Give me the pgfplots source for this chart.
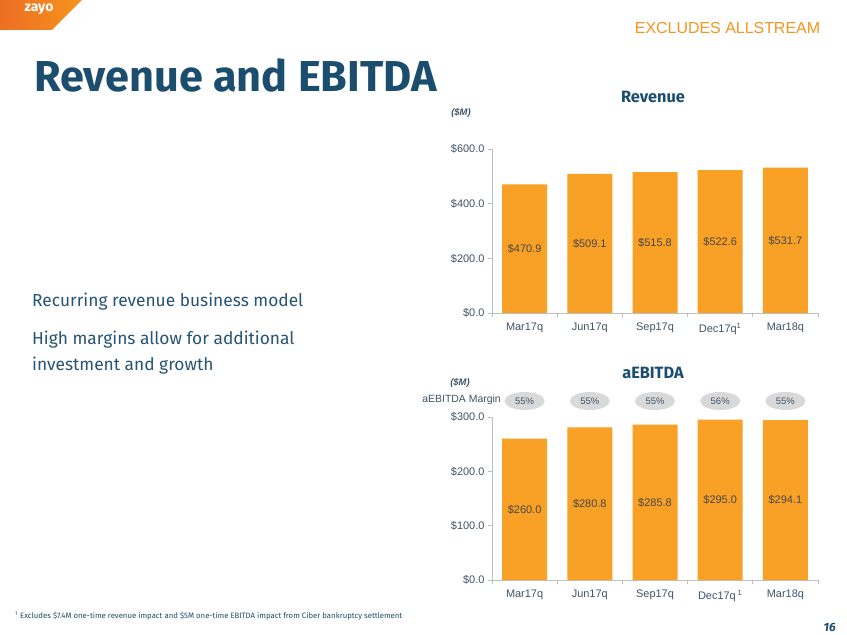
\documentclass[border=0pt]{standalone}
\usepackage{pgfplots}
\pgfplotsset{compat=1.18}
\usepackage{pgfplotstable}
\usepackage{fontspec}
\setmainfont{Liberation Sans}
\newfontfamily\fira{Fira Sans}
\usetikzlibrary{shapes.geometric}

\definecolor{barorange}{RGB}{249,161,38}
\definecolor{navy}{RGB}{27,77,110}
\definecolor{axtext}{RGB}{64,84,104}
\definecolor{valtext}{RGB}{70,70,70}
\definecolor{axline}{RGB}{191,191,191}
\definecolor{ovalgray}{RGB}{217,217,217}
\definecolor{zorange}{RGB}{247,148,29}
\definecolor{zdark}{RGB}{236,110,35}
\definecolor{bodyblue}{RGB}{38,84,117}

\pgfplotstableread{
x y
0 470.9
1 509.1
2 515.8
3 522.6
4 531.7
}\revtable

\pgfplotstableread{
x y m
0 260.0 55
1 280.8 55
2 285.8 55
3 295.0 56
4 294.1 55
}\ebitdatable

\pgfplotsset{
  zbar/.style={
    scale only axis, width=326bp,
    xmin=-0.5, xmax=4.5, ymin=0,
    axis x line*=bottom, axis y line*=left,
    axis line style={draw=axline, line width=0.8pt},
    xtick={0,...,4},
    minor xtick={-0.5,0.5,1.5,2.5,3.5,4.5},
    major x tick style={draw=none},
    minor x tick style={draw=axline, line width=0.8pt},
    y tick style={draw=axline, line width=0.8pt},
    tick align=outside,
    minor tick length=4bp, major tick length=4bp,
    ticklabel style={font=\fontsize{11}{12}\selectfont, text=axtext},
    xticklabel style={yshift=-2.5bp},
    clip=false,
    /pgf/number format/assume math mode=true,
  },
  midlabels/.style={
    draw=none, mark=none, point meta=explicit,
    nodes near coords={\$\pgfmathprintnumber[fixed,fixed zerofill,precision=1]{\pgfplotspointmeta}},
    every node near coord/.style={anchor=center, font=\fontsize{11}{12}\selectfont, text=valtext},
  },
}

\begin{document}
\begin{tikzpicture}
\useasboundingbox (0,0) rectangle (847bp,635bp);
\fill[white] (0,0) rectangle (847bp,635bp);
% logo
\shade[left color=zdark, right color=zorange] (0,635bp) -- (82bp,635bp) -- (52bp,605bp) -- (0,605bp) -- cycle;
\node[text=white, font=\fira\bfseries\fontsize{14}{16}\selectfont] at (39bp,626bp) {zayo};
\node[text=zorange, font=\fontsize{16}{18}\selectfont] at (727.5bp,607bp) {EXCLUDES ALLSTREAM};
% title
\node[anchor=base west, inner sep=0pt, text=navy, font=\fira\bfseries\fontsize{43.4}{50}\selectfont] at (34bp,543bp) {Revenue and EBITDA};
% body
\node[anchor=base west, inner sep=0pt, text=bodyblue, font=\fira\fontsize{17.4}{22}\selectfont] at (32bp,328bp) {Recurring revenue business model};
\node[anchor=base west, inner sep=0pt, text=bodyblue, font=\fira\fontsize{17.4}{22}\selectfont] at (32bp,290bp) {High margins allow for additional};
\node[anchor=base west, inner sep=0pt, text=bodyblue, font=\fira\fontsize{17.4}{22}\selectfont] at (32bp,264bp) {investment and growth};
% footnote and page
\node[anchor=base west, inner sep=0pt, text=navy, font=\fira\fontsize{7.8}{9}\selectfont] at (15bp,17bp) {\textsuperscript{1} Excludes \$7.4M one-time revenue impact and \$5M one-time EBITDA impact from Ciber bankruptcy settlement};
\node[anchor=base east, inner sep=0pt, text=navy, font=\fira\bfseries\itshape\fontsize{12}{14}\selectfont] at (836bp,4bp) {16};
% chart titles
\node[text=navy, font=\fira\bfseries\fontsize{16.4}{18}\selectfont] at (653bp,538bp) {Revenue};
\node[text=axtext, font=\bfseries\itshape\fontsize{9.5}{11}\selectfont] at (461bp,522bp) {(\$M)};
\node[text=navy, font=\fira\bfseries\fontsize{16.4}{18}\selectfont] at (653bp,262bp) {aEBITDA};
\node[text=axtext, font=\bfseries\itshape\fontsize{9.5}{11}\selectfont] at (460bp,252bp) {(\$M)};
\node[anchor=east, inner sep=0pt, text=axtext, font=\fontsize{10.5}{12}\selectfont] at (501bp,235bp) {aEBITDA Margin};

\begin{axis}[zbar, at={(492bp,322bp)}, anchor=south west, height=164bp,
  ymax=600, ytick={0,200,400,600},
  yticklabels={\$0.0,\$200.0,\$400.0,\$600.0},
  xticklabels={Mar17q,Jun17q,Sep17q,Dec17q\textsuperscript{1},Mar18q}]
\addplot[ybar, bar width=45bp, fill=barorange, draw=none] table[x=x,y=y]{\revtable};
\addplot[midlabels] table[x=x, y expr=\thisrow{y}/2, meta=y]{\revtable};
\end{axis}

\begin{axis}[zbar, at={(492bp,55bp)}, anchor=south west, height=163bp,
  ymax=300, ytick={0,100,200,300},
  yticklabels={\$0.0,\$100.0,\$200.0,\$300.0},
  xticklabels={Mar17q,Jun17q,Sep17q,Dec17q\,\textsuperscript{1},Mar18q}]
\addplot[ybar, bar width=45bp, fill=barorange, draw=none] table[x=x,y=y]{\ebitdatable};
\addplot[midlabels] table[x=x, y expr=\thisrow{y}/2, meta=y]{\ebitdatable};
\addplot[draw=none, mark=none, point meta=explicit,
  nodes near coords={\pgfmathprintnumber{\pgfplotspointmeta}\%},
  every node near coord/.style={ellipse, fill=ovalgray, inner sep=0pt,
    minimum width=40bp, minimum height=18bp, anchor=center, yshift=16bp,
    font=\fontsize{9.5}{10}\selectfont, text=axtext}]
  table[x=x, y expr=300, meta=m]{\ebitdatable};
\end{axis}
\end{tikzpicture}
\end{document}
